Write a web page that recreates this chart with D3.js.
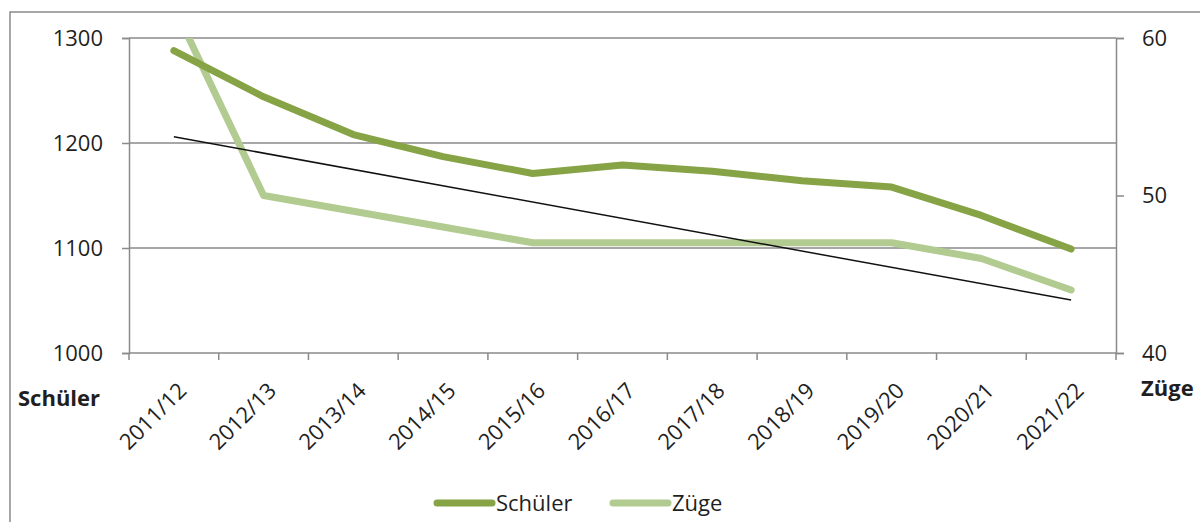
<!DOCTYPE html>
<html>
<head>
<meta charset="utf-8">
<script src="https://cdn.jsdelivr.net/npm/d3@7"></script>
<style>
  body { margin: 0; background: #fff; }
  svg { display: block; font-family: "Open Sans", sans-serif; }
</style>
</head>
<body>
<svg id="chart"></svg>
<script>
// data
let years = ['2011/12', '2012/13', '2013/14', '2014/15', '2015/16', '2016/17',
  '2017/18', '2018/19', '2019/20', '2020/21', '2021/22'];
let schueler = [1288, 1244, 1208, 1187, 1171, 1179, 1173, 1164, 1158, 1131, 1099];
let zuege = [62, 50, 49, 48, 47, 47, 47, 47, 47, 46, 44];
let leftTicks = [1000, 1100, 1200, 1300];
let rightTicks = [40, 50, 60];

let colors = { schueler: '#86a346', zuege: '#b2cb90', axis: '#8a8a8a', text: '#1f1f1f' };

let width = 1200, height = 522;
let plot = { left: 129, right: 1116, top: 38, bottom: 353 };

let svg = d3.select('#chart').attr('width', width).attr('height', height);

// outer chart frame (runs past the picture on the right and bottom)
svg.append('rect')
  .attr('x', 10).attr('y', 12)
  .attr('width', 1300).attr('height', 600)
  .attr('fill', 'none')
  .attr('stroke', colors.axis)
  .attr('stroke-width', 1.5);

let x = d3.scaleBand().domain(years).range([plot.left, plot.right]);
let yL = d3.scaleLinear().domain([1000, 1300]).range([plot.bottom, plot.top]);
let yR = d3.scaleLinear().domain([40, 60]).range([plot.bottom, plot.top]);
let cx = d => x(d) + x.bandwidth() / 2;

// gridlines
svg.append('g')
  .selectAll('line')
  .data(leftTicks.slice(1))
  .join('line')
  .attr('x1', plot.left).attr('x2', plot.right)
  .attr('y1', d => yL(d)).attr('y2', d => yL(d))
  .attr('stroke', colors.axis).attr('stroke-width', 1.5);

// left axis
let leftAxis = svg.append('g')
  .attr('transform', translate(plot.left, 0))
  .call(d3.axisLeft(yL).tickValues(leftTicks).tickSize(7).tickPadding(19).tickFormat(d3.format('d')));

// right axis
let rightAxis = svg.append('g')
  .attr('transform', translate(plot.right, 0))
  .call(d3.axisRight(yR).tickValues(rightTicks).tickSize(8).tickPadding(18));

[leftAxis, rightAxis].forEach(g => {
  g.select('.domain').attr('stroke', colors.axis).attr('stroke-width', 1.5);
  g.selectAll('.tick line').attr('stroke', colors.axis).attr('stroke-width', 1.5);
  g.selectAll('.tick text')
    .attr('fill', colors.text)
    .style('font-size', '22px')
    .style('font-family', '"Open Sans", sans-serif');
});

// bottom axis with ticks between categories
let xg = svg.append('g');
xg.append('line')
  .attr('x1', plot.left).attr('x2', plot.right)
  .attr('y1', plot.bottom).attr('y2', plot.bottom)
  .attr('stroke', colors.axis).attr('stroke-width', 1.5);
xg.selectAll('line.tick')
  .data(years.map(d => x(d)).concat([plot.right]))
  .join('line')
  .attr('class', 'tick')
  .attr('x1', d => d).attr('x2', d => d)
  .attr('y1', plot.bottom).attr('y2', plot.bottom + 7)
  .attr('stroke', colors.axis).attr('stroke-width', 1.5);
xg.selectAll('text')
  .data(years)
  .join('text')
  .attr('transform', d => translate(cx(d) + 14, plot.bottom + 39) + ' rotate(-45)')
  .attr('text-anchor', 'end')
  .attr('fill', colors.text)
  .style('font-size', '22px')
  .text(d => d);

// axis titles
svg.append('text')
  .attr('x', 18).attr('y', 406)
  .attr('fill', colors.text)
  .style('font-size', '22px').style('font-weight', 'bold')
  .text('Schüler');
svg.append('text')
  .attr('x', 1141).attr('y', 396)
  .attr('fill', colors.text)
  .style('font-size', '22px').style('font-weight', 'bold')
  .text('Züge');

// clip to plot area
svg.append('clipPath').attr('id', 'clip')
  .append('rect')
  .attr('x', plot.left).attr('y', plot.top)
  .attr('width', plot.right - plot.left).attr('height', plot.bottom - plot.top);

let lineL = d3.line().x((d, i) => cx(years[i])).y(d => yL(d));
let lineR = d3.line().x((d, i) => cx(years[i])).y(d => yR(d));

svg.append('path')
  .datum(zuege)
  .attr('clip-path', 'url(#clip)')
  .attr('fill', 'none')
  .attr('stroke', colors.zuege)
  .attr('stroke-width', 7)
  .attr('stroke-linecap', 'round')
  .attr('stroke-linejoin', 'round')
  .attr('d', lineR);

svg.append('path')
  .datum(schueler)
  .attr('clip-path', 'url(#clip)')
  .attr('fill', 'none')
  .attr('stroke', colors.schueler)
  .attr('stroke-width', 7)
  .attr('stroke-linecap', 'round')
  .attr('stroke-linejoin', 'round')
  .attr('d', lineL);

// linear trend of Züge
let n = zuege.length;
let mx = d3.mean(d3.range(n)), my = d3.mean(zuege);
let slope = d3.sum(d3.range(n), i => (i - mx) * (zuege[i] - my)) / d3.sum(d3.range(n), i => (i - mx) * (i - mx));
let trend = [0, n - 1].map(i => ({ i: i, v: my + slope * (i - mx) }));

svg.append('path')
  .datum(trend)
  .attr('fill', 'none')
  .attr('stroke', '#111')
  .attr('stroke-width', 1.5)
  .attr('d', d3.line().x(d => cx(years[d.i])).y(d => yR(d.v)));

// legend
let legend = [
  { name: 'Schüler', color: colors.schueler, x: 437 },
  { name: 'Züge', color: colors.zuege, x: 613 }
];
let lg = svg.append('g').selectAll('g').data(legend).join('g')
  .attr('transform', d => translate(d.x, 503));
lg.append('line')
  .attr('x1', 0).attr('x2', 55)
  .attr('stroke', d => d.color)
  .attr('stroke-width', 7)
  .attr('stroke-linecap', 'round');
lg.append('text')
  .attr('x', 59).attr('y', 8)
  .attr('fill', colors.text)
  .style('font-size', '22px')
  .text(d => d.name);

// helper method to make translating easier
function translate(x, y) {
  return 'translate(' + x + ',' + y + ')';
}
</script>
</body>
</html>
